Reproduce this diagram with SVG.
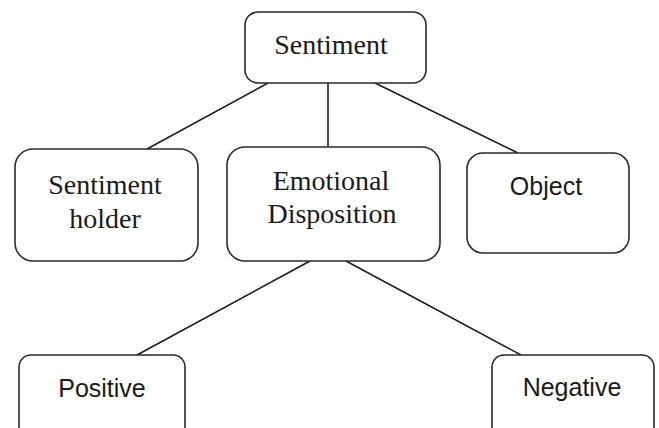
<svg xmlns="http://www.w3.org/2000/svg" width="659" height="428" viewBox="0 0 659 428">
<style>
.box{fill:#fff;stroke:#2a2a2a;stroke-width:1.6}
.ln{stroke:#1a1a1a;stroke-width:1.5;fill:none}
.serif{font-family:"Liberation Serif","Times New Roman",serif;font-size:28px;fill:#1a1a1a;text-anchor:middle}
.sans{font-family:"Liberation Sans",Arial,sans-serif;font-size:25px;fill:#1a1a1a;text-anchor:middle}
</style>
<rect width="659" height="428" fill="#fff"/>
<g id="connectors">
<line class="ln" x1="268" y1="83" x2="147" y2="149"/>
<line class="ln" x1="328" y1="83" x2="328" y2="147"/>
<line class="ln" x1="375" y1="83" x2="518" y2="153"/>
<line class="ln" x1="310" y1="261" x2="137" y2="355"/>
<line class="ln" x1="346" y1="261" x2="521" y2="355"/>
</g>
<g id="sentiment">
<rect class="box" x="245" y="12" width="181" height="71" rx="13"/>
<text class="serif" x="331" y="54">Sentiment</text>
</g>
<g id="holder">
<rect class="box" x="15" y="149" width="183" height="112" rx="18"/>
<text class="serif" x="105" y="194">Sentiment</text>
<text class="serif" x="105" y="228">holder</text>
</g>
<g id="emotional">
<rect class="box" x="227" y="147" width="213" height="114" rx="18"/>
<text class="serif" x="331" y="190">Emotional</text>
<text class="serif" x="332" y="223">Disposition</text>
</g>
<g id="object">
<rect class="box" x="467" y="153" width="162" height="100" rx="16"/>
<text class="sans" x="546" y="195">Object</text>
</g>
<g id="positive">
<rect class="box" x="19" y="355" width="166" height="100" rx="12"/>
<text class="sans" x="102" y="397">Positive</text>
</g>
<g id="negative">
<rect class="box" x="492" y="355" width="162" height="100" rx="12"/>
<text class="sans" x="572" y="396">Negative</text>
</g>
</svg>
